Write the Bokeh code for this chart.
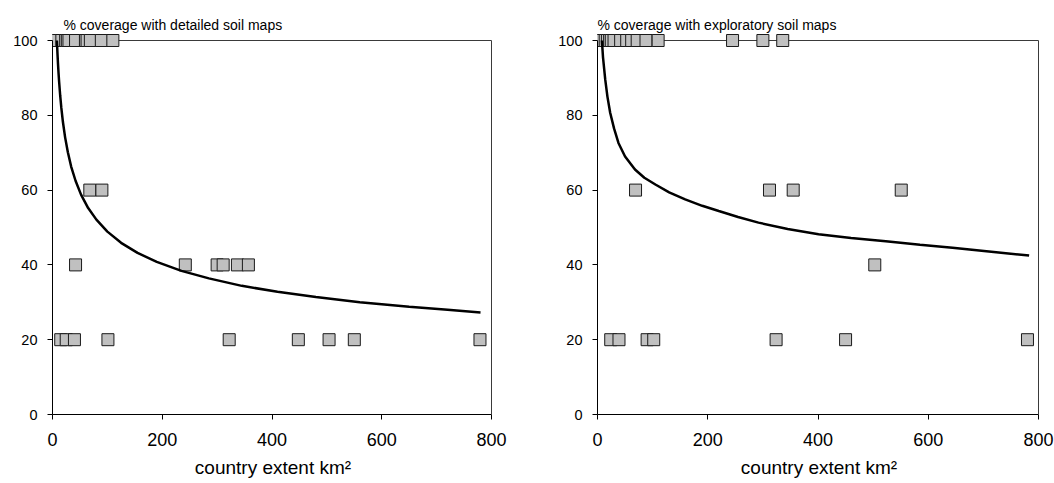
from bokeh.plotting import figure
from bokeh.layouts import row
from bokeh.models import Range1d, FixedTicker
from bokeh.embed import file_html
from bokeh.resources import INLINE

# ---- data ----
detailed_extent = [1, 5, 9, 17, 24, 27, 30, 42, 60, 63, 69, 89, 110,
                   68, 90,
                   42, 242, 300, 311, 337, 357,
                   15, 25, 40, 101, 322, 448, 504, 550, 779]
detailed_coverage = [100] * 13 + [60] * 2 + [40] * 6 + [20] * 9

exploratory_extent = [1, 4, 9, 14, 18, 22, 25, 30, 42, 53, 62, 72, 88, 110, 245, 300, 336,
                      69, 312, 355, 551,
                      503,
                      24, 39, 90, 102, 324, 450, 780]
exploratory_coverage = [100] * 17 + [60] * 4 + [40] * 1 + [20] * 7

detailed_trend_x = [8, 9, 10, 11, 12, 14, 16, 19, 23, 28, 34, 42, 52, 65, 80, 100,
                    125, 155, 190, 235, 285, 345, 410, 480, 560, 650, 720, 780]
detailed_trend_y = [100, 96.7, 93.8, 91.3, 89.1, 85.3, 82.1, 78.2, 74.1, 70.1, 66.3, 62.5,
                    58.8, 55.2, 52.1, 48.9, 45.9, 43.2, 40.8, 38.4, 36.4, 34.4, 32.8,
                    31.4, 30.0, 28.8, 28.0, 27.3]

exploratory_trend_x = [8, 10, 14, 18, 23, 30, 38, 50, 68, 85, 105, 130, 159, 190, 220, 255,
                       292, 345, 401, 460, 523, 585, 644, 710, 783]
exploratory_trend_y = [100, 95.5, 89.6, 85, 80.7, 76.5, 72.6, 69, 65.5, 63.3, 61.5, 59.4,
                       57.5, 55.8, 54.4, 52.8, 51.3, 49.6, 48.2, 47.2, 46.3, 45.4, 44.6,
                       43.6, 42.5]

titles = ["% coverage with detailed soil maps", "% coverage with exploratory soil maps"]
x_label = "country extent km\u00b2"
X_TICKS = [0, 200, 400, 600, 800]
Y_TICKS = [0, 20, 40, 60, 80, 100]
X_MIN, X_MAX = 0, 800
Y_MIN, Y_MAX = 0, 100

FONT = "Liberation Sans"
H = 483
FRAME_TOP = 33
AXIS_TOP_PX = 40
AXIS_BOTTOM_PX = 414


def make(title, xs, ys, tx, ty, fig_w, x0_px, x800_px, title_offset):
    ppu_x = (x800_px - x0_px) / (X_MAX - X_MIN)
    pad_r = 2 / ppu_x
    frame_w = (x800_px - x0_px) + 2
    ppu_y = (AXIS_BOTTOM_PX - AXIS_TOP_PX) / (Y_MAX - Y_MIN)
    pad_t = (AXIS_TOP_PX - FRAME_TOP) / ppu_y
    p = figure(width=fig_w, height=H, output_backend="svg", toolbar_location=None,
               x_range=Range1d(X_MIN, X_MAX + pad_r),
               y_range=Range1d(Y_MIN, Y_MAX + pad_t),
               min_border_left=x0_px, min_border_right=fig_w - x0_px - frame_w,
               min_border_top=FRAME_TOP, min_border_bottom=H - AXIS_BOTTOM_PX)
    p.outline_line_color = None
    p.xgrid.visible = False
    p.ygrid.visible = False
    p.background_fill_color = "white"
    p.border_fill_color = "white"

    p.title.text = title
    p.title.text_font = FONT
    p.title.text_font_size = "14px"
    p.title.text_font_style = "normal"
    p.title.text_color = "black"
    p.title.align = "left"
    p.title.offset = title_offset
    p.title.standoff = 1

    xa = p.xaxis[0]
    xa.ticker = FixedTicker(ticks=X_TICKS)
    xa.bounds = (X_MIN, X_MAX)
    xa.major_tick_out = 5
    xa.major_tick_in = 0
    xa.minor_tick_out = 0
    xa.minor_tick_in = 0
    xa.axis_line_color = "black"
    xa.major_tick_line_color = "black"
    xa.major_label_text_font = FONT
    xa.major_label_text_font_size = "18px"
    xa.major_label_text_color = "black"
    xa.major_label_standoff = 13
    xa.axis_label = x_label
    xa.axis_label_text_font = FONT
    xa.axis_label_text_font_size = "19px"
    xa.axis_label_text_font_style = "normal"
    xa.axis_label_text_color = "black"
    xa.axis_label_standoff = 8

    ya = p.yaxis[0]
    ya.ticker = FixedTicker(ticks=Y_TICKS)
    ya.bounds = (Y_MIN, Y_MAX)
    ya.major_tick_out = 5
    ya.major_tick_in = 0
    ya.minor_tick_out = 0
    ya.minor_tick_in = 0
    ya.axis_line_color = "black"
    ya.major_tick_line_color = "black"
    ya.major_label_text_font = FONT
    ya.major_label_text_font_size = "14.5px"
    ya.major_label_text_color = "black"
    ya.major_label_standoff = 10

    # plot-area border (top and right edges)
    p.line(x=[X_MIN, X_MAX, X_MAX], y=[Y_MAX, Y_MAX, Y_MIN], line_color="#3a3a3a", line_width=1)

    p.scatter(x=xs, y=ys, marker="square", size=12, fill_color="#C0C0C0",
              line_color="#1a1a1a", line_width=1)
    p.line(x=tx, y=ty, line_color="black", line_width=2.5)
    return p


p1 = make(titles[0], detailed_extent, detailed_coverage, detailed_trend_x, detailed_trend_y,
          527, 52, 491, 11)
p2 = make(titles[1], exploratory_extent, exploratory_coverage, exploratory_trend_x,
          exploratory_trend_y, 527, 70, 511, 0)

layout = row(p1, p2)
open("out.html", "w").write(file_html(layout, INLINE))
